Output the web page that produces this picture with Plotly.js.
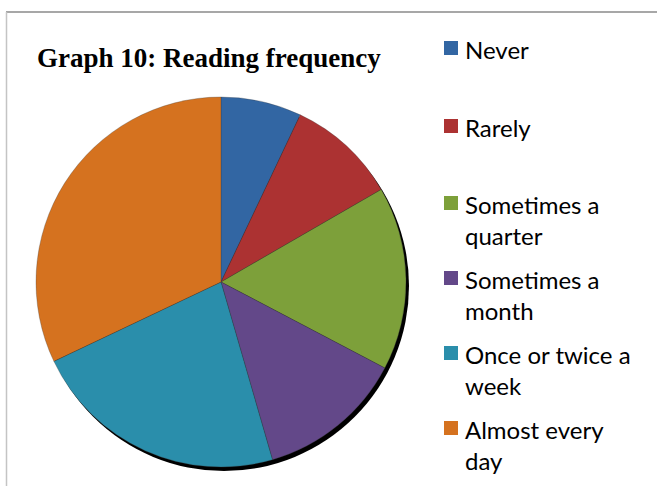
<!DOCTYPE html>
<html>
<head>
<meta charset="utf-8">
<script src="https://cdn.plot.ly/plotly-3.0.1.min.js"></script>
<style>html,body{margin:0;padding:0;background:#fff;}#chart{width:657px;height:486px;}</style>
</head>
<body>
<div id="chart"></div>
<script>
// Data
var categories = ["Never", "Rarely", "Sometimes a quarter", "Sometimes a month", "Once or twice a week", "Almost every day"];
var legendLabels = ["Never", "Rarely", "Sometimes a<br>quarter", "Sometimes a<br>month", "Once or twice a<br>week", "Almost every<br>day"];
var values = [11, 15, 25, 20, 35, 50];
var colors = ["#3266A3", "#AC3232", "#7DA03A", "#634889", "#2A8EAB", "#D5721F"];
var titleText = "Graph 10: Reading frequency";

// Layout constants (pixels)
var W = 657, H = 486;
var cx = 221, cy = 282, R = 185;
var legendBaselines = [57, 135, 212, 287, 362, 437];
var legendFontSize = 24;
function px(a) { return a / W; }
function py(b) { return 1 - b / H; }

var shadow = {
  type: "pie",
  values: [1],
  labels: ["shadow"],
  marker: { colors: ["#000000"], line: { width: 0 } },
  textinfo: "none",
  hoverinfo: "skip",
  showlegend: false,
  sort: false,
  domain: { x: [px(cx - R + 3), px(cx + R + 3)], y: [py(cy + R + 4), py(cy - R + 4)] }
};

var pie = {
  type: "pie",
  values: values,
  labels: categories,
  marker: { colors: colors, line: { width: 0.6, color: "rgba(60,60,60,0.5)" } },
  textinfo: "none",
  sort: false,
  direction: "clockwise",
  rotation: 0,
  showlegend: false,
  domain: { x: [px(cx - R), px(cx + R)], y: [py(cy + R), py(cy - R)] }
};

var shapes = [
  { type: "line", xref: "paper", yref: "paper", x0: px(6), x1: 1, y0: py(12), y1: py(12), line: { color: "#8a8a8a", width: 1.5 } },
  { type: "line", xref: "paper", yref: "paper", x0: px(6.5), x1: px(6.5), y0: 0, y1: py(12), line: { color: "#c4c4c4", width: 1.5 } }
];
var annotations = [];
legendLabels.forEach(function (lab, i) {
  var b = legendBaselines[i];
  shapes.push({
    type: "rect", xref: "paper", yref: "paper",
    x0: px(444), x1: px(458), y0: py(b - 2), y1: py(b - 16),
    fillcolor: colors[i], line: { width: 0 }
  });
  annotations.push({
    xref: "paper", yref: "paper",
    x: px(464), y: py(b - 23),
    xanchor: "left", yanchor: "top", align: "left",
    showarrow: false, borderpad: 0,
    text: lab,
    font: { family: "Lato, Carlito, Calibri, sans-serif", size: legendFontSize, color: "#000" }
  });
});

var layout = {
  width: W, height: H,
  margin: { l: 0, r: 0, t: 0, b: 0 },
  paper_bgcolor: "#ffffff",
  plot_bgcolor: "#ffffff",
  showlegend: false,
  title: {
    text: "<b>" + titleText + "</b>",
    font: { family: "Liberation Serif, Times New Roman, serif", size: 27, color: "#000" },
    x: px(37), xanchor: "left", xref: "paper",
    y: py(58), yanchor: "middle", yref: "container"
  },
  shapes: shapes,
  annotations: annotations
};

Plotly.newPlot("chart", [shadow, pie], layout, { staticPlot: true, displayModeBar: false });
</script>
</body>
</html>
